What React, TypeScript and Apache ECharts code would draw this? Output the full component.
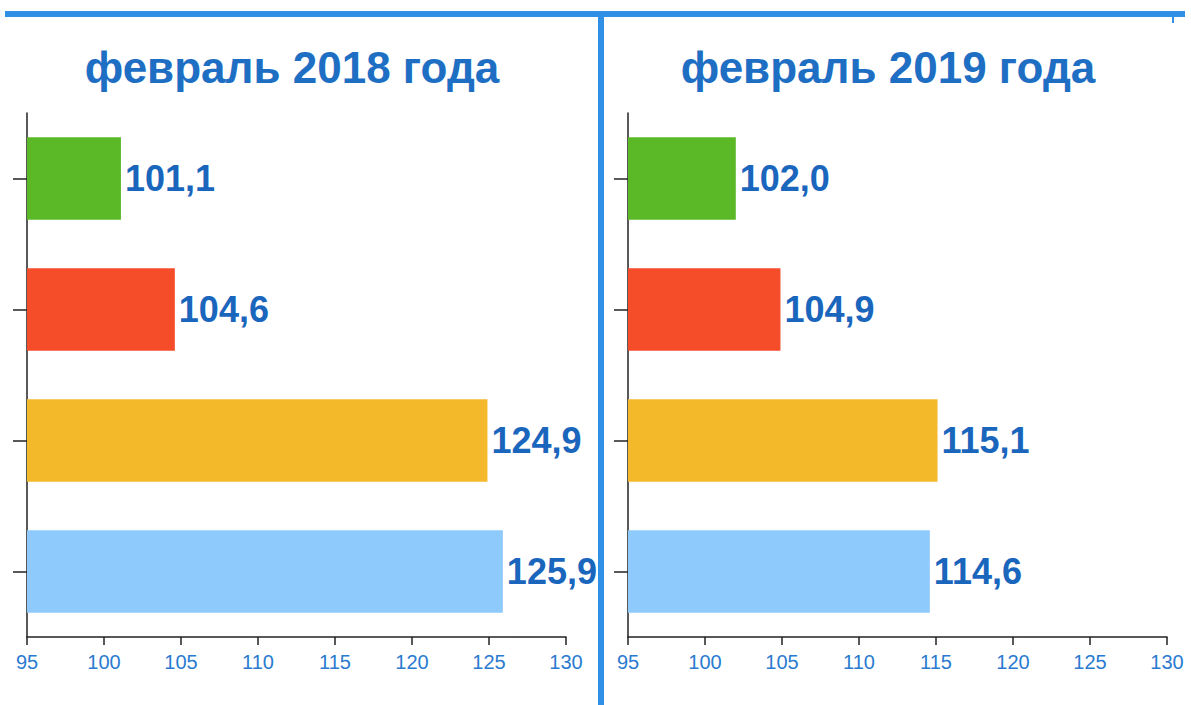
import React, { useEffect, useRef } from "react";
import * as echarts from "echarts";

const categories = ["Группа 1", "Группа 2", "Группа 3", "Группа 4"];
const values2018 = [101.1, 104.6, 124.9, 125.9];
const values2019 = [102.0, 104.9, 115.1, 114.6];
const barColors = ["#5bb827", "#f54d2a", "#f3b92b", "#8fcafd"];
const panelTitles = ["февраль 2018 года", "февраль 2019 года"];
const xMin = 95;
const xMax = 130;
const xStep = 5;

export default function App() {
  const ref = useRef<HTMLDivElement>(null);
  useEffect(() => {
    document.body.style.margin = "0";
    const chart = echarts.init(ref.current!, null, { renderer: "svg" });
    const blue = "#1e6fc3";
    const font = "Liberation Sans, Arial, sans-serif";
    const mkX = (gi: number) => ({
      type: "value",
      gridIndex: gi,
      min: xMin,
      max: xMax,
      interval: xStep,
      splitLine: { show: false },
      axisLine: { show: true, lineStyle: { color: "#222", width: 1.5 } },
      axisTick: { show: true, length: 8, lineStyle: { color: "#222", width: 1.5 } },
      axisLabel: { color: "#2a7bd0", fontSize: 20, margin: 15, fontFamily: font },
    });
    const mkY = (gi: number) => ({
      type: "category",
      gridIndex: gi,
      data: categories,
      inverse: true,
      axisLine: { show: true, lineStyle: { color: "#222", width: 1.5 } },
      axisTick: { show: true, alignWithLabel: true, length: 14, lineStyle: { color: "#222", width: 1.5 } },
      axisLabel: { show: false },
    });
    const mkSeries = (gi: number, vals: number[]) => ({
      type: "bar",
      xAxisIndex: gi,
      yAxisIndex: gi,
      barWidth: "63%",
      data: vals.map((v, i) => ({ value: v, itemStyle: { color: barColors[i] } })),
      label: {
        show: true,
        position: "right",
        distance: 4,
        color: "#1a66bd",
        fontSize: 36,
        fontWeight: "bold",
        fontFamily: font,
        formatter: (p: any) => p.value.toFixed(1).replace(".", ","),
      },
    });
    const titleStyle = { color: blue, fontSize: 44, fontWeight: "bold", fontFamily: font };
    chart.setOption({
      animation: false,
      backgroundColor: "#ffffff",
      title: [
        { text: panelTitles[0], left: 287, top: 40, textAlign: "center", textStyle: titleStyle },
        { text: panelTitles[1], left: 883, top: 40, textAlign: "center", textStyle: titleStyle },
      ],
      grid: [
        { left: 27, width: 539, top: 113, height: 524 },
        { left: 628, width: 539, top: 113, height: 524 },
      ],
      xAxis: [mkX(0), mkX(1)],
      yAxis: [mkY(0), mkY(1)],
      series: [mkSeries(0, values2018), mkSeries(1, values2019)],
      graphic: [
        { type: "rect", shape: { x: 5, y: 11, width: 1180, height: 6 }, style: { fill: "#2f90e6" } },
        { type: "rect", shape: { x: 598, y: 11, width: 6, height: 700 }, style: { fill: "#2f90e6" } },
        { type: "rect", shape: { x: 1172, y: 16, width: 2, height: 7 }, style: { fill: "#2f90e6" } },
      ],
    });
    return () => chart.dispose();
  }, []);
  return <div ref={ref} style={{ position: "absolute", left: 0, top: 0, width: 1191, height: 705 }} />;
}
